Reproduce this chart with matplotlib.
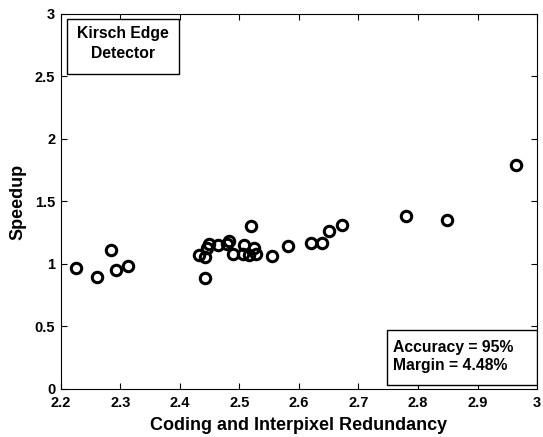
import matplotlib
matplotlib.use("Agg")
import matplotlib.pyplot as plt
from matplotlib.patches import Rectangle

plt.rcParams['font.family'] = ['Liberation Sans', 'DejaVu Sans']
plt.rcParams['font.weight'] = 'bold'

# Coding and interpixel redundancy vs. measured speedup
redundancy = [2.225, 2.260, 2.284, 2.292, 2.313,
              2.432, 2.442, 2.443, 2.445, 2.449, 2.464, 2.480, 2.483,
              2.489, 2.508, 2.506, 2.520, 2.525, 2.516, 2.528, 2.554,
              2.582, 2.620, 2.638, 2.651, 2.672, 2.780, 2.849, 2.964]
speedup = [0.966, 0.898, 1.110, 0.955, 0.987,
           1.072, 1.058, 0.890, 1.125, 1.157, 1.152, 1.160, 1.187,
           1.082, 1.155, 1.080, 1.304, 1.125, 1.072, 1.080, 1.066,
           1.144, 1.170, 1.170, 1.262, 1.315, 1.380, 1.354, 1.790]

x_ticks = [2.2, 2.3, 2.4, 2.5, 2.6, 2.7, 2.8, 2.9, 3.0]
x_tick_labels = ['2.2', '2.3', '2.4', '2.5', '2.6', '2.7', '2.8', '2.9', '3']
y_ticks = [0, 0.5, 1, 1.5, 2, 2.5, 3]
y_tick_labels = ['0', '0.5', '1', '1.5', '2', '2.5', '3']

fig = plt.figure(figsize=(5.43, 4.37), dpi=100)
ax = fig.add_axes([0.112, 0.110, 0.877, 0.858])

ax.plot(redundancy, speedup, linestyle='none', marker='o', markersize=7.5,
        markerfacecolor='none', markeredgecolor='black', markeredgewidth=2.2)

ax.set_xlim(2.2, 3.0)
ax.set_ylim(0, 3)
ax.set_xticks(x_ticks)
ax.set_xticklabels(x_tick_labels)
ax.set_yticks(y_ticks)
ax.set_yticklabels(y_tick_labels)
ax.tick_params(direction='in', top=True, right=True, length=4, width=0.8,
               labelsize=10.5)
ax.tick_params(axis='x', pad=5)
ax.tick_params(axis='y', pad=4)
for lab in ax.get_xticklabels() + ax.get_yticklabels():
    lab.set_fontweight('bold')
for sp in ax.spines.values():
    sp.set_linewidth(0.8)

ax.set_xlabel('Coding and Interpixel Redundancy', fontsize=13, fontweight='bold', labelpad=5)
ax.set_ylabel('Speedup', fontsize=13, fontweight='bold', labelpad=6)

# Title box in the upper-left corner
ax.add_patch(Rectangle((2.2101, 2.52), 0.188, 0.44, transform=ax.transData,
                       facecolor='white', edgecolor='black', linewidth=1, zorder=3))
ax.text(2.3041, 2.765, 'Kirsch Edge\nDetector', ha='center', va='center',
        fontsize=11.3, fontweight='bold', linespacing=1.45, zorder=4)

# Accuracy box in the lower-right corner
ax.add_patch(Rectangle((2.748, 0.032), 0.252, 0.44, transform=ax.transData,
                       facecolor='white', edgecolor='black', linewidth=1, zorder=3))
ax.text(2.758, 0.258, 'Accuracy = 95%\nMargin = 4.48%', ha='left', va='center',
        fontsize=11.3, fontweight='bold', linespacing=1.2, zorder=4)

fig.savefig('out.png', dpi=100)
